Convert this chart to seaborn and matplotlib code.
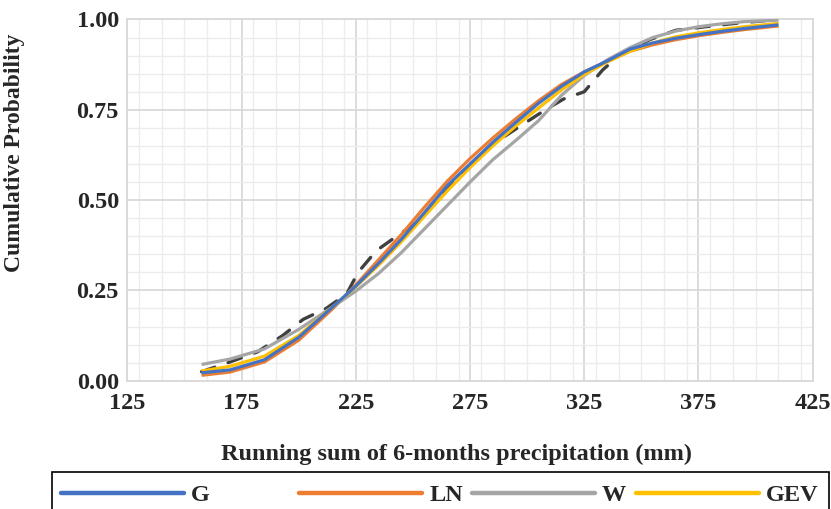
import matplotlib
matplotlib.use("Agg")
import matplotlib.pyplot as plt
from matplotlib.ticker import MultipleLocator
from matplotlib.lines import Line2D
import seaborn as sns

# ---- data ----
x_fit = [157.5, 170, 185, 200, 215, 225, 235, 245, 255, 265, 275, 285, 295,
         305, 315, 325, 335, 345, 355, 365, 375, 385, 395, 410]
g_cdf = [0.022, 0.030, 0.058, 0.120, 0.205, 0.262, 0.325, 0.392, 0.465, 0.540,
         0.600, 0.660, 0.715, 0.768, 0.815, 0.855, 0.885, 0.918, 0.935, 0.948,
         0.958, 0.967, 0.975, 0.985]
ln_cdf = [0.015, 0.024, 0.052, 0.112, 0.200, 0.265, 0.335, 0.405, 0.480, 0.552,
          0.615, 0.672, 0.725, 0.775, 0.820, 0.855, 0.884, 0.912, 0.930, 0.944,
          0.955, 0.964, 0.972, 0.982]
w_cdf = [0.045, 0.060, 0.088, 0.142, 0.205, 0.248, 0.297, 0.355, 0.420, 0.485,
         0.550, 0.612, 0.665, 0.720, 0.790, 0.845, 0.888, 0.922, 0.950, 0.968,
         0.980, 0.988, 0.994, 0.998]
gev_cdf = [0.027, 0.040, 0.068, 0.125, 0.205, 0.260, 0.320, 0.385, 0.455, 0.525,
           0.590, 0.650, 0.705, 0.755, 0.805, 0.848, 0.882, 0.912, 0.935, 0.952,
           0.963, 0.972, 0.980, 0.989]
x_emp = [157.5, 170, 182, 193, 202, 212, 221, 226, 234, 244, 250, 255, 265, 275,
         285, 297, 308, 316, 325, 333, 342, 354, 365, 378, 392, 410]
emp_cdf = [0.025, 0.052, 0.080, 0.125, 0.170, 0.200, 0.240, 0.300, 0.360, 0.405,
           0.430, 0.462, 0.535, 0.597, 0.655, 0.705, 0.750, 0.780, 0.800, 0.860,
           0.910, 0.945, 0.970, 0.980, 0.990, 1.000]

series_names = ["G", "LN", "W", "GEV"]
series_vals = [g_cdf, ln_cdf, w_cdf, gev_cdf]
series_colors = ["#4472C4", "#ED7D31", "#A5A5A5", "#FFC000"]
series_z = [5, 3, 4, 4.5]

x_ticks = [125, 175, 225, 275, 325, 375, 425]
y_ticks = [0.00, 0.25, 0.50, 0.75, 1.00]

sns.set_theme(style="white")
plt.rcParams["font.family"] = ["Liberation Serif", "DejaVu Serif"]
plt.rcParams["font.weight"] = "bold"

fig = plt.figure(figsize=(8.31, 5.09), dpi=100)
ax = fig.add_axes([0.1532, 0.252, 0.8248, 0.7097])

# empirical (dashed)
sns.lineplot(x=x_emp, y=emp_cdf, ax=ax, color="#404040", linewidth=2.4,
             linestyle=(0, (4.2, 4.2)), dash_capstyle="round", zorder=2)

for name, vals, col, z in zip(series_names, series_vals, series_colors, series_z):
    sns.lineplot(x=x_fit, y=vals, ax=ax, color=col, linewidth=2.3, zorder=z,
                 solid_capstyle="butt")

ax.set_xlim(125, 425)
ax.set_ylim(0, 1)
ax.set_xticks(x_ticks)
ax.set_yticks(y_ticks)
ax.set_xticklabels([str(v) for v in x_ticks])
ax.set_yticklabels([f"{v:.2f}" for v in y_ticks])
ax.xaxis.set_minor_locator(MultipleLocator(10))
ax.yaxis.set_minor_locator(MultipleLocator(0.05))
ax.grid(which="major", color="#d9d9d9", linewidth=1.3, zorder=0)
ax.grid(which="minor", color="#ececec", linewidth=1.0, zorder=0)
ax.set_axisbelow(True)
ax.tick_params(which="both", length=0, labelsize=17.5)
ax.tick_params(axis="x", pad=9)
ax.tick_params(axis="y", pad=6)
for lab in ax.get_xticklabels() + ax.get_yticklabels():
    lab.set_fontweight("bold")
for s in ax.spines.values():
    s.set_color("#d9d9d9")
    s.set_linewidth(1.3)

ax.set_xlabel("Running sum of 6-months precipitation (mm)", fontsize=17.5,
              fontweight="bold")
ax.set_ylabel("Cumulative Probability", fontsize=17, fontweight="bold")
ax.xaxis.set_label_coords(0.4806, -0.176)
ax.yaxis.set_label_coords(-0.149, 0.632)

# legend (frame cut at bottom of figure)
handles = [Line2D([0], [0], color=c, lw=3.2) for c in series_colors]
frame = plt.Rectangle((52 / 831, -0.05), (829 - 52) / 831, 1 - 472 / 509 + 0.05,
                      transform=fig.transFigure, fill=False, edgecolor="black",
                      linewidth=1.2)
fig.add_artist(frame)
leg_x = [62, 300, 473, 637]
for h, name, lx in zip(handles, series_names, leg_x):
    fig.legend([h], [name], loc="center left",
               bbox_to_anchor=(lx / 831 - 0.0015, 1 - 495 / 509),
               frameon=False, handlelength=5.06, handletextpad=0.3,
               borderpad=0, borderaxespad=0,
               prop={"family": "Liberation Serif", "weight": "bold", "size": 17.5})

fig.savefig("out.png", dpi=100)
